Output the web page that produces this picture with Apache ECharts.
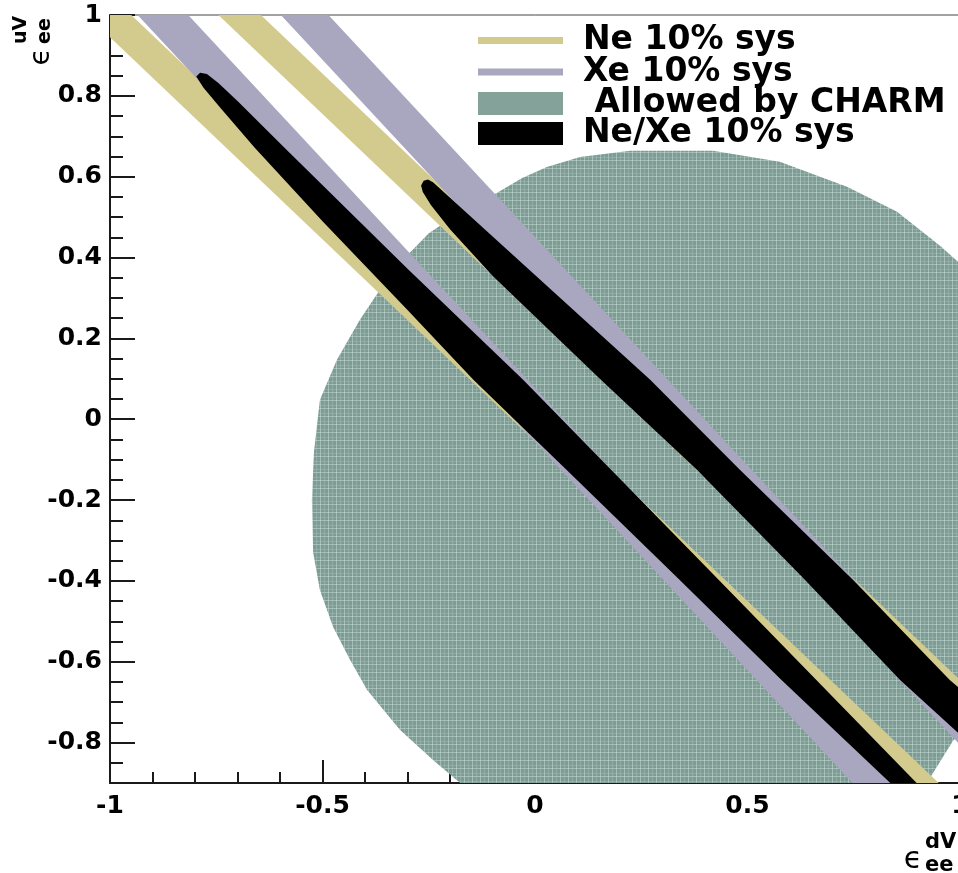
<!DOCTYPE html>
<html><head><meta charset="utf-8">
<script src="https://cdn.jsdelivr.net/npm/echarts@6/dist/echarts.min.js"></script>
<style>html,body{margin:0;padding:0;background:#fff}#c{width:958px;height:873px}</style>
</head><body><div id="c"></div>
<script>
// ---------- data ----------
const xRange = [-1, 1];
const yRange = [-0.9, 1];

// Ne 10% sys bands (two allowed strips)
const neBandLow  = [[-1, 1], [-0.95, 1], [0.95, -0.9], [0.845, -0.9], [-1, 0.945]];
const neBandHigh = [[-0.745, 1], [-0.645, 1], [1, -0.645], [1, -0.745]];

// Xe 10% sys bands
const xeBandLow  = [[-0.935, 1], [-0.816, 1], [0.865, -0.9], [0.747, -0.9]];
const xeBandHigh = [[-0.598, 1], [-0.486, 1], [1, -0.679], [1, -0.806]];

// Allowed by CHARM region outline
const charmRegion = [
  [-0.176, -0.9], [-0.24, -0.843], [-0.318, -0.768], [-0.395, -0.67], [-0.435, -0.596],
  [-0.475, -0.514], [-0.506, -0.423], [-0.522, -0.33], [-0.525, -0.2], [-0.52, -0.08],
  [-0.506, 0.048], [-0.466, 0.147], [-0.412, 0.246], [-0.365, 0.32], [-0.31, 0.395],
  [-0.25, 0.46], [-0.17, 0.515], [-0.089, 0.56], [-0.03, 0.597], [0.028, 0.624],
  [0.106, 0.649], [0.224, 0.664], [0.419, 0.664], [0.576, 0.637], [0.734, 0.575],
  [0.852, 0.513], [0.953, 0.429], [1.0, 0.385], [1.0, -0.78], [0.984, -0.795], [0.922, -0.9]
];

// Ne/Xe 10% sys combined regions
const comboLow = [
  [-0.797, 0.848], [-0.788, 0.857], [-0.772, 0.854], [-0.745, 0.832], [-0.70, 0.787],
  [-0.59, 0.672], [-0.30, 0.372], [-0.028, 0.0975], [0.179, -0.125], [0.432, -0.397],
  [0.662, -0.645], [0.898, -0.9], [0.836, -0.9], [0.58, -0.645], [0.34, -0.397],
  [0.074, -0.125], [-0.145, 0.0975], [-0.30, 0.27], [-0.50, 0.49], [-0.66, 0.672],
  [-0.74, 0.77], [-0.78, 0.82]
];
const comboHigh = [
  [-0.268, 0.578], [-0.262, 0.59], [-0.252, 0.593], [-0.24, 0.586], [0.271, 0.0975],
  [0.482, -0.125], [0.748, -0.397], [0.976, -0.645], [1.0, -0.667], [1.0, -0.78],
  [0.859, -0.645], [0.635, -0.397], [0.381, -0.125], [0.155, 0.0975], [-0.10, 0.355],
  [-0.20, 0.47], [-0.245, 0.53], [-0.264, 0.562]
];

const names = ['Ne 10% sys', 'Xe 10% sys', ' Allowed by CHARM', 'Ne/Xe 10% sys'];
const colors = ['#d3cb8d', '#a9a6c0', '#84a29a', '#000000'];

// ---------- rendering ----------
function makeTexture() {
  const c = document.createElement('canvas');
  c.width = 8; c.height = 8;
  const g = c.getContext('2d');
  g.fillStyle = '#7e9c94'; g.fillRect(0, 0, 8, 8);
  g.fillStyle = 'rgba(195,218,211,0.55)'; g.fillRect(0, 0, 1, 8); g.fillRect(0, 0, 8, 1);
  g.fillStyle = 'rgba(195,218,211,0.25)'; g.fillRect(4, 0, 1, 8); g.fillRect(0, 5, 8, 1);
  return c;
}
const texture = makeTexture();

function polygonSeries(name, polys, fill, legendColor, z) {
  const data = [];
  polys.forEach((poly, pi) => poly.forEach(p => data.push([p[0], p[1], pi])));
  return {
    type: 'custom', name: name, coordinateSystem: 'cartesian2d',
    clip: true, z: z, silent: true, animation: false,
    encode: { x: 0, y: 1 },
    itemStyle: { color: legendColor },
    data: data,
    renderItem: function (params, api) {
      const idx = params.dataIndex;
      const pi = data[idx][2];
      if (idx > 0 && data[idx - 1][2] === pi) return null;
      const pts = polys[pi].map(p => api.coord(p));
      return { type: 'polygon', shape: { points: pts }, style: { fill: fill, stroke: null } };
    }
  };
}

const font = 'DejaVu Sans';
const tickColor = '#1a1a1a';

function legendAt(name, top, h) {
  return {
    data: [{ name: name, icon: 'rect' }],
    left: 478, top: top, padding: 0, orient: 'vertical',
    itemWidth: 85, itemHeight: h, selectedMode: false,
    textStyle: { fontFamily: font, fontWeight: 'bold', fontSize: 33, color: '#000',
                 lineHeight: 32, padding: [0, 0, 0, 15] }
  };
}

const chart = echarts.init(document.getElementById('c'), null, { renderer: 'canvas' });
chart.setOption({
  animation: false,
  backgroundColor: '#fff',
  grid: { left: 110, top: 15, width: 850, height: 768, show: true,
          borderColor: '#444', borderWidth: 1, backgroundColor: 'transparent',
          outerBoundsMode: 'none', containLabel: false },
  xAxis: {
    type: 'value', min: xRange[0], max: xRange[1], interval: 0.5,
    axisLine: { show: true, onZero: false, lineStyle: { color: tickColor, width: 2 } },
    axisTick: { show: true, inside: true, length: 23, lineStyle: { color: tickColor, width: 2 } },
    minorTick: { show: true, splitNumber: 5, length: 11, lineStyle: { color: tickColor, width: 2 } },
    splitLine: { show: false }, minorSplitLine: { show: false },
    axisLabel: { fontFamily: font, fontWeight: 'bold', fontSize: 25, color: '#000', margin: 11 }
  },
  yAxis: [{
    type: 'value', min: yRange[0], max: yRange[1], splitNumber: 10,
    axisLine: { show: true, onZero: false, lineStyle: { color: tickColor, width: 2 } },
    axisTick: { show: true, inside: true, length: 25, lineStyle: { color: tickColor, width: 2 } },
    splitLine: { show: false },
    axisLabel: { fontFamily: font, fontWeight: 'bold', fontSize: 25, color: '#000', margin: 8,
                 showMinLabel: false }
  }, {
    type: 'value', min: yRange[0], max: yRange[1], interval: 0.05, position: 'left', offset: 0,
    axisLine: { show: false, onZero: false }, axisLabel: { show: false }, splitLine: { show: false },
    axisTick: { show: true, inside: true, length: 13, lineStyle: { color: tickColor, width: 2 } }
  }],
  legend: [
    legendAt(names[0], 24, 7),
    legendAt(names[1], 55.5, 7),
    legendAt(names[2], 87, 23),
    legendAt(names[3], 117, 23)
  ],
  graphic: [
    { type: 'text', x: 913, y: 860,
      style: { text: 'ϵ', font: 'normal 30px "DejaVu Sans"', fill: '#000', align: 'center', verticalAlign: 'middle' } },
    { type: 'text', x: 925, y: 843,
      style: { text: 'dV', font: 'bold 21px "DejaVu Sans"', fill: '#000', align: 'left', verticalAlign: 'middle' } },
    { type: 'text', x: 925, y: 866,
      style: { text: 'ee', font: 'bold 21px "DejaVu Sans"', fill: '#000', align: 'left', verticalAlign: 'middle' } },
    { type: 'group', x: 41.5, y: 57, rotation: Math.PI / 2, children: [
      { type: 'text', x: 0, y: 0,
        style: { text: 'ϵ', font: 'normal 28px "DejaVu Sans"', fill: '#000', align: 'center', verticalAlign: 'middle' } },
      { type: 'text', x: 13, y: -20,
        style: { text: 'uV', font: 'bold 19px "DejaVu Sans"', fill: '#000', align: 'left', verticalAlign: 'middle' } },
      { type: 'text', x: 13, y: 3.5,
        style: { text: 'ee', font: 'bold 19px "DejaVu Sans"', fill: '#000', align: 'left', verticalAlign: 'middle' } }
    ] }
  ],
  series: [
    polygonSeries(names[2], [charmRegion], { image: texture, repeat: 'repeat' }, colors[2], 2),
    polygonSeries(names[0], [neBandLow, neBandHigh], colors[0], colors[0], 3),
    polygonSeries(names[1], [xeBandLow, xeBandHigh], colors[1], colors[1], 4),
    polygonSeries(names[3], [comboLow, comboHigh], colors[3], colors[3], 5)
  ]
});
</script></body></html>
